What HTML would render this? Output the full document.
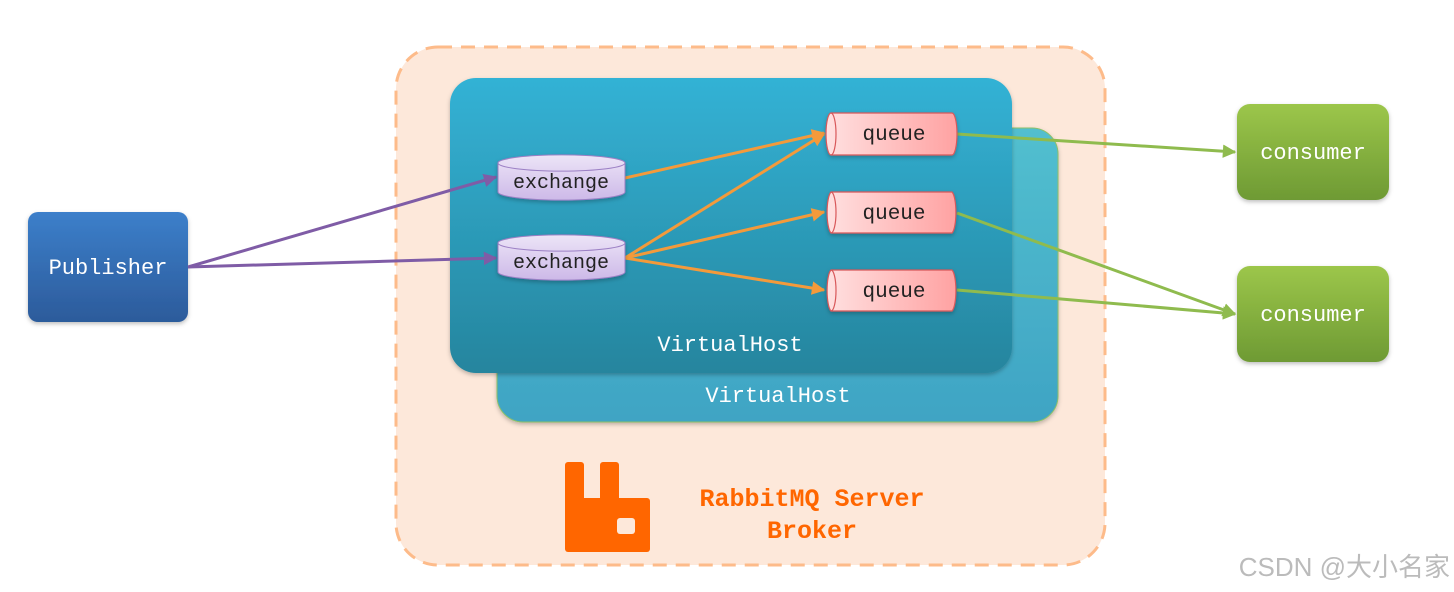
<!DOCTYPE html>
<html><head><meta charset="utf-8"><style>
html,body{margin:0;padding:0;background:#fff;}
svg{display:block;}
text{font-family:"Liberation Mono","DejaVu Sans Mono",monospace;}
</style></head><body>
<svg width="1454" height="592" viewBox="0 0 1454 592" xmlns="http://www.w3.org/2000/svg">
<defs>
<linearGradient id="vh" x1="0" y1="0" x2="0" y2="1"><stop offset="0" stop-color="#33b2d5"/><stop offset="1" stop-color="#26859e"/></linearGradient>
<linearGradient id="vhb" x1="0" y1="0" x2="0" y2="1"><stop offset="0" stop-color="#52bfcf"/><stop offset="1" stop-color="#3fa4c4"/></linearGradient>
<linearGradient id="pub" x1="0" y1="0" x2="0" y2="1"><stop offset="0" stop-color="#3c7fca"/><stop offset="1" stop-color="#2c5b9b"/></linearGradient>
<linearGradient id="con" x1="0" y1="0" x2="0" y2="1"><stop offset="0" stop-color="#9cc64a"/><stop offset="1" stop-color="#6e9a34"/></linearGradient>
<linearGradient id="q" x1="0" y1="0" x2="1" y2="0"><stop offset="0" stop-color="#ffe0e0"/><stop offset="1" stop-color="#ffa2a2"/></linearGradient>
<linearGradient id="ex" x1="0" y1="0" x2="0" y2="1"><stop offset="0" stop-color="#ece4f7"/><stop offset="1" stop-color="#cdb9e8"/></linearGradient>
<marker id="ap" viewBox="0 0 10 10" refX="9" refY="5" markerWidth="4.5" markerHeight="4.5" orient="auto"><path d="M0,0L10,5L0,10z" fill="#7f5ca6"/></marker>
<marker id="ao" viewBox="0 0 10 10" refX="9" refY="5" markerWidth="4.5" markerHeight="4.5" orient="auto"><path d="M0,0L10,5L0,10z" fill="#f39a3b"/></marker>
<marker id="ag" viewBox="0 0 10 10" refX="9" refY="5" markerWidth="4.5" markerHeight="4.5" orient="auto"><path d="M0,0L10,5L0,10z" fill="#8fbb4e"/></marker>
<filter id="sh" x="-10%" y="-10%" width="120%" height="130%"><feDropShadow dx="0" dy="2" stdDeviation="2" flood-opacity="0.25"/></filter>
</defs>

<rect x="396" y="47" width="709" height="518" rx="42" fill="#fde8da" stroke="#fdbb8a" stroke-width="3" stroke-dasharray="14,9"/>

<rect x="497" y="128" width="561" height="294" rx="26" fill="url(#vhb)" stroke="#8cc06a" stroke-width="1" filter="url(#sh)"/>
<text x="778" y="402" fill="#fff" font-size="22" text-anchor="middle">VirtualHost</text>
<rect x="450" y="78" width="562" height="295" rx="26" fill="url(#vh)" filter="url(#sh)"/>
<text x="730" y="351" fill="#fff" font-size="22" text-anchor="middle">VirtualHost</text>

<!-- logo -->
<g fill="#ff6600">
<rect x="565" y="462" width="19" height="60" rx="3"/>
<rect x="600" y="462" width="19" height="50" rx="3"/>
<path d="M565,498 H647 a3,3 0 0 1 3,3 V549 a3,3 0 0 1 -3,3 H568 a3,3 0 0 1 -3,-3 Z"/>
</g>
<rect x="617" y="518" width="18" height="16" rx="3" fill="#fde8da"/>
<text x="812" y="506" fill="#ff6600" font-size="25" font-weight="bold" text-anchor="middle">RabbitMQ Server</text>
<text x="812" y="538" fill="#ff6600" font-size="25" font-weight="bold" text-anchor="middle">Broker</text>

<!-- publisher -->
<rect x="28" y="212" width="160" height="110" rx="10" fill="url(#pub)" filter="url(#sh)"/>
<text x="108" y="274" fill="#fff" font-size="22" text-anchor="middle">Publisher</text>

<!-- consumers -->
<rect x="1237" y="104" width="152" height="96" rx="13" fill="url(#con)" filter="url(#sh)"/>
<text x="1313" y="159" fill="#fff" font-size="22" text-anchor="middle">consumer</text>
<rect x="1237" y="266" width="152" height="96" rx="13" fill="url(#con)" filter="url(#sh)"/>
<text x="1313" y="321" fill="#fff" font-size="22" text-anchor="middle">consumer</text>

<!-- arrows -->
<g stroke-width="3" fill="none">
<line x1="188" y1="267" x2="496" y2="177" stroke="#7f5ca6" marker-end="url(#ap)"/>
<line x1="188" y1="267" x2="496" y2="258" stroke="#7f5ca6" marker-end="url(#ap)"/>
<line x1="625" y1="178" x2="824" y2="133" stroke="#f39a3b" marker-end="url(#ao)"/>
<line x1="625" y1="258" x2="824" y2="134" stroke="#f39a3b" marker-end="url(#ao)"/>
<line x1="625" y1="258" x2="824" y2="212" stroke="#f39a3b" marker-end="url(#ao)"/>
<line x1="625" y1="258" x2="824" y2="290" stroke="#f39a3b" marker-end="url(#ao)"/>
<line x1="957" y1="134" x2="1235" y2="152" stroke="#8fbb4e" marker-end="url(#ag)"/>
<line x1="957" y1="213" x2="1235" y2="314" stroke="#8fbb4e" marker-end="url(#ag)"/>
<line x1="957" y1="290" x2="1235" y2="314" stroke="#8fbb4e" marker-end="url(#ag)"/>
</g>

<!-- exchanges -->
<g filter="url(#sh)">
<path d="M498,163 a63,8 0 0 1 127,0 V192 a63,8 0 0 1 -127,0 Z" fill="url(#ex)" stroke="#9b7fc4" stroke-width="1"/>
<path d="M498,163 a63,8 0 0 0 127,0" fill="none" stroke="#9b7fc4"/>
<path d="M498,243 a63,8 0 0 1 127,0 V272 a63,8 0 0 1 -127,0 Z" fill="url(#ex)" stroke="#9b7fc4" stroke-width="1"/>
<path d="M498,243 a63,8 0 0 0 127,0" fill="none" stroke="#9b7fc4"/>
</g>
<text x="561" y="188" fill="#222" font-size="20" text-anchor="middle">exchange</text>
<text x="561" y="268" fill="#222" font-size="20" text-anchor="middle">exchange</text>

<!-- queues -->
<g filter="url(#sh)" stroke="#d8585a" stroke-width="1.2">
<path d="M831,113 H952 a5,21 0 0 1 0,42 H831 a5,21 0 0 1 0,-42 Z" fill="url(#q)"/>
<path d="M831,113 a5,21 0 0 1 0,42" fill="none"/>
<path d="M831,192 H952 a5,21 0 0 1 0,41 H831 a5,21 0 0 1 0,-41 Z" fill="url(#q)"/>
<path d="M831,192 a5,20.5 0 0 1 0,41" fill="none"/>
<path d="M831,270 H952 a5,21 0 0 1 0,41 H831 a5,21 0 0 1 0,-41 Z" fill="url(#q)"/>
<path d="M831,270 a5,20.5 0 0 1 0,41" fill="none"/>
</g>
<text x="894" y="140" fill="#222" font-size="21" text-anchor="middle">queue</text>
<text x="894" y="219" fill="#222" font-size="21" text-anchor="middle">queue</text>
<text x="894" y="297" fill="#222" font-size="21" text-anchor="middle">queue</text>

<text x="1450" y="576" fill="#bbb" font-size="26" text-anchor="end" style='font-family:"Liberation Sans","Noto Sans CJK SC",sans-serif'>CSDN @大小名家</text>
</svg>
</body></html>
